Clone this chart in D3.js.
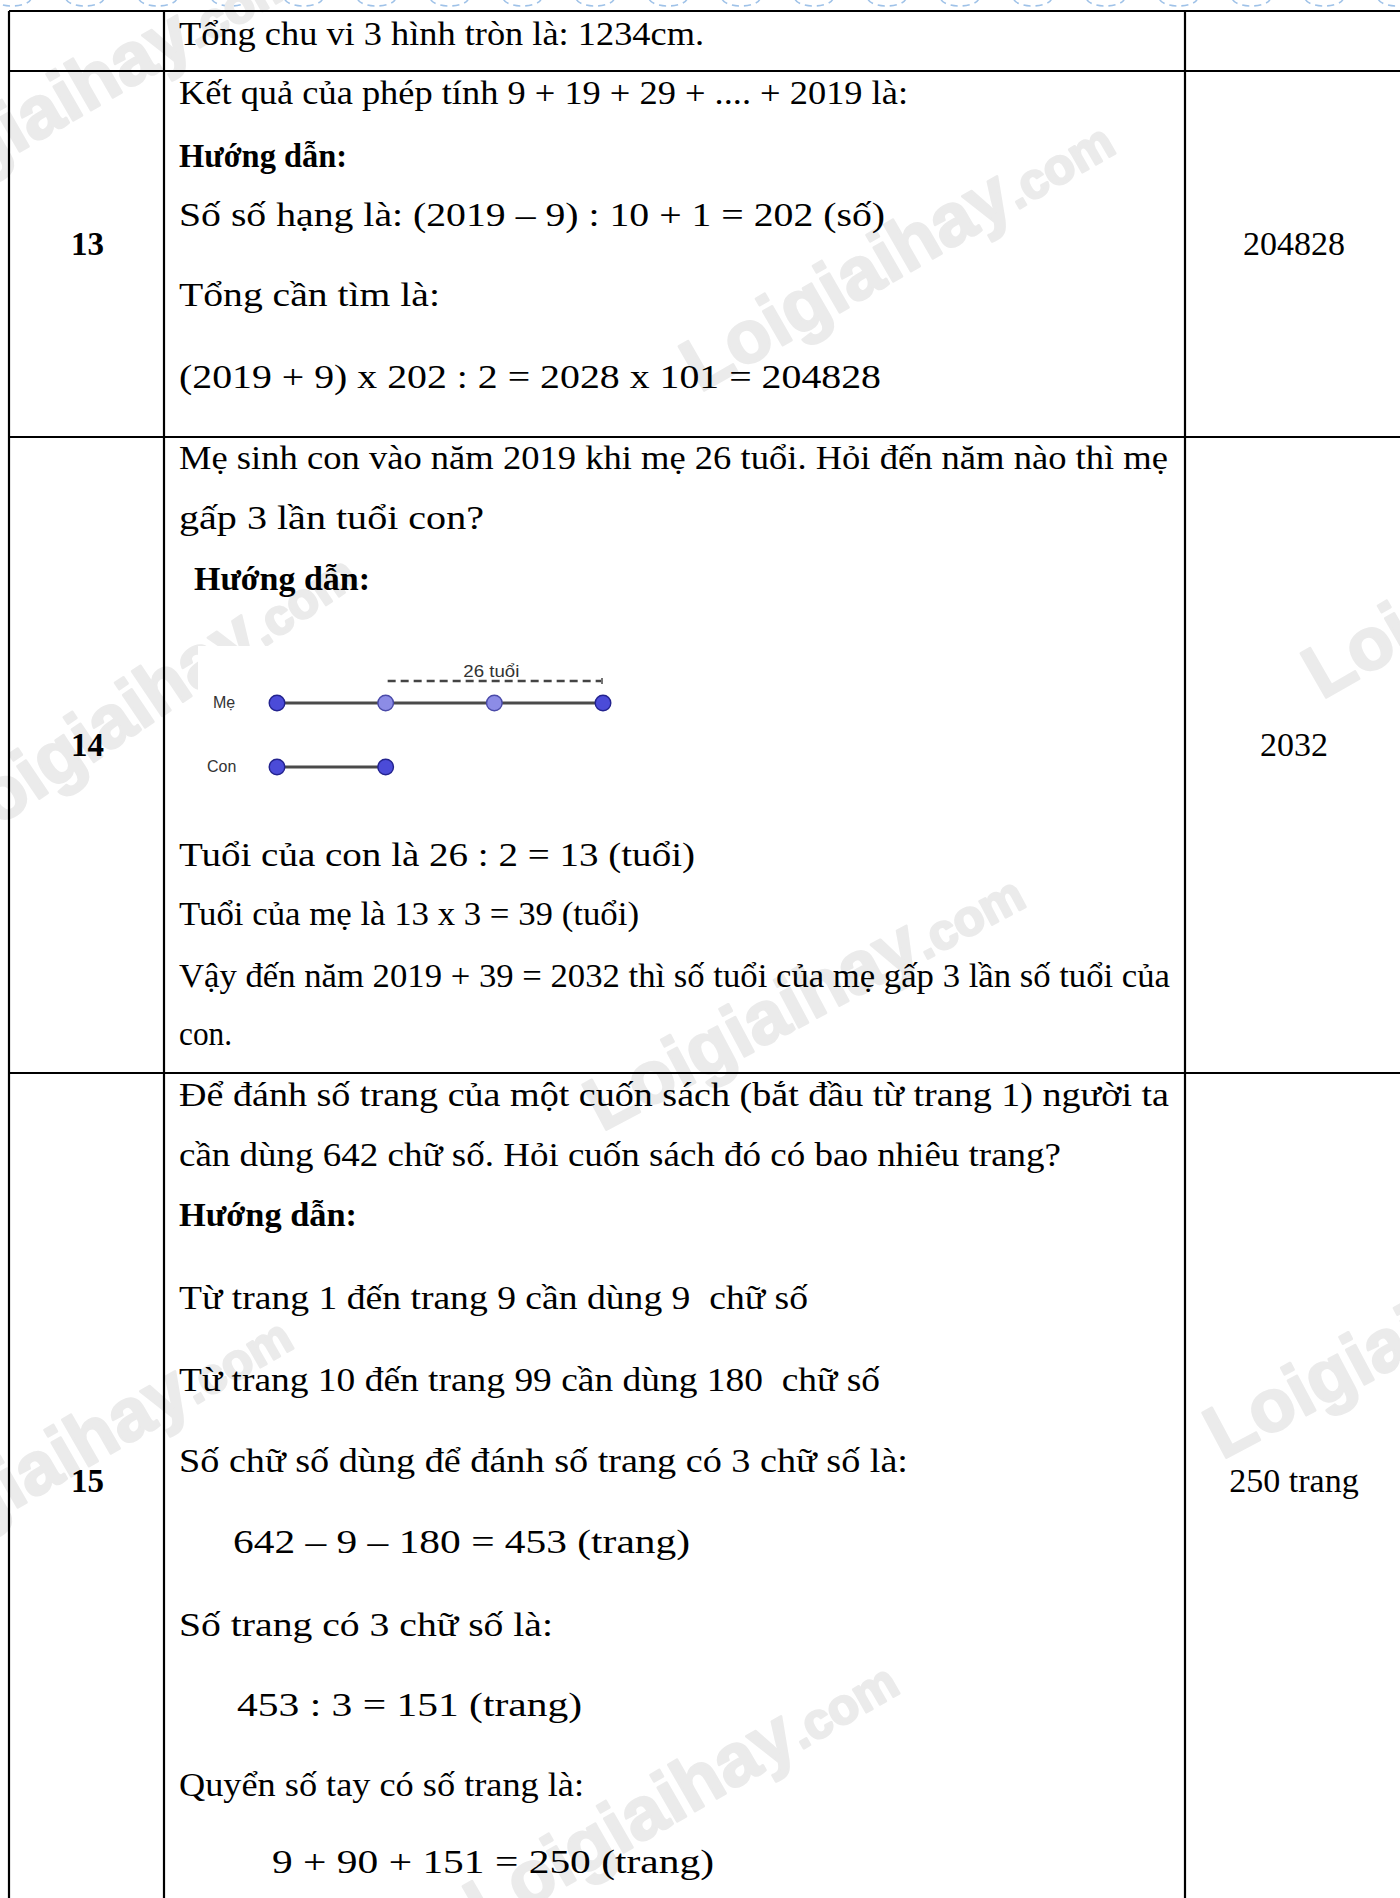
<!DOCTYPE html>
<html>
<head>
<meta charset="utf-8">
<script src="https://cdn.jsdelivr.net/npm/d3@7"></script>
<style>
  html, body { margin: 0; padding: 0; background: #fff; }
  svg { display: block; }
  text { white-space: pre; }
</style>
</head>
<body>
<div id="chart"></div>
<script>
const W = 1400, H = 1898;

// --- table content ---
const questionNumbers = ["13", "14", "15"];
const answers = ["204828", "2032", "250 trang"];
const prevRowLines = ["Tổng chu vi 3 hình tròn là: 1234cm."];
const q13Lines = [
  "Kết quả của phép tính 9 + 19 + 29 + .... + 2019 là:",
  "Hướng dẫn:",
  "Số số hạng là: (2019 – 9) : 10 + 1 = 202 (số)",
  "Tổng cần tìm là:",
  "(2019 + 9) x 202 : 2 = 2028 x 101 = 204828"
];
const q14Lines = [
  "Mẹ sinh con vào năm 2019 khi mẹ 26 tuổi. Hỏi đến năm nào thì mẹ",
  "gấp 3 lần tuổi con?",
  "Hướng dẫn:",
  "Tuổi của con là 26 : 2 = 13 (tuổi)",
  "Tuổi của mẹ là 13 x 3 = 39 (tuổi)",
  "Vậy đến năm 2019 + 39 = 2032 thì số tuổi của mẹ gấp 3 lần số tuổi của",
  "con."
];
const q15Lines = [
  "Để đánh số trang của một cuốn sách (bắt đầu từ trang 1) người ta",
  "cần dùng 642 chữ số. Hỏi cuốn sách đó có bao nhiêu trang?",
  "Hướng dẫn:",
  "Từ trang 1 đến trang 9 cần dùng 9  chữ số",
  "Từ trang 10 đến trang 99 cần dùng 180  chữ số",
  "Số chữ số dùng để đánh số trang có 3 chữ số là:",
  "642 – 9 – 180 = 453 (trang)",
  "Số trang có 3 chữ số là:",
  "453 : 3 = 151 (trang)",
  "Quyển số tay có số trang là:",
  "9 + 90 + 151 = 250 (trang)"
];

// --- segment diagram (units of the child's age) ---
const diagramLabels = ["Mẹ", "Con"];
const meUnits = [0, 1, 2, 3];
const conUnits = [0, 1];
const bracketUnits = [1, 3];
const bracketLabel = "26 tuổi";

const watermarkText = "Loigiaihay";
const watermarkSuffix = ".com";

// layout (baseline y, left x, right x) for each text line, in order
const lineLayout = [
  [45, 179, 704],
  [104, 179, 908], [167, 179, 347], [226, 179, 885], [306, 179, 440], [388, 179, 881],
  [469, 179, 1168], [529, 179, 484], [590, 194, 370],
  [866, 179, 695], [925, 179, 639], [987, 179, 1170], [1045, 179, 232],
  [1106, 179, 1169], [1166, 179, 1061], [1226, 179, 357], [1309, 179, 808],
  [1391, 179, 880], [1472, 179, 908], [1553, 233, 690], [1636, 179, 553],
  [1716, 237, 582], [1796, 179, 584], [1873, 272, 714]
];
const COLS = [9, 164, 1185, 1403];
const ROWS = [11, 71, 437, 1073, 1905];
// [x, y, angle] of each watermark's start
const watermarkSpots = [
  [-120, 232, -30], [700, 393, -30], [-40, 852, -34], [1322, 700, -30],
  [602, 1132, -28], [-122, 1588, -30], [1222, 1460, -28], [484, 1933, -30]
];

const svg = d3.select("#chart").append("svg")
  .attr("width", W)
  .attr("height", H)
  .attr("viewBox", `0 0 ${W} ${H}`);

svg.append("rect").attr("width", W).attr("height", H).attr("fill", "#fff");

// decorative dashed ovals along the top edge
svg.append("g").selectAll("ellipse")
  .data(d3.range(20))
  .enter().append("ellipse")
  .attr("cx", i => 12 + i * 72.9)
  .attr("cy", -2)
  .attr("rx", 19)
  .attr("ry", 8)
  .attr("fill", "none")
  .attr("stroke", "#9fc2e8")
  .attr("stroke-width", 1.6)
  .attr("stroke-dasharray", "7,5");

// watermarks
const wm = svg.append("g");
watermarkSpots.forEach(([x, y, a]) => {
  const t = wm.append("text")
    .attr("transform", `translate(${x},${y}) rotate(${a})`)
    .attr("font-family", "'Liberation Sans', Arial, sans-serif")
    .attr("font-weight", "bold")
    .attr("fill", "#ebebeb")
    .attr("stroke", "#ebebeb")
    .attr("stroke-width", 2.5)
    .attr("stroke-linejoin", "round");
  t.append("tspan").attr("font-size", 74).text(watermarkText);
  t.append("tspan").attr("font-size", 50).text(watermarkSuffix);
});

// table grid
const grid = svg.append("g").attr("stroke", "#000").attr("stroke-width", 2.2);
grid.selectAll("line.h")
  .data(ROWS.slice(0, 4))
  .enter().append("line")
  .attr("x1", COLS[0]).attr("x2", COLS[3])
  .attr("y1", d => d).attr("y2", d => d);
grid.selectAll("line.v")
  .data(COLS.slice(0, 3))
  .enter().append("line")
  .attr("y1", ROWS[0]).attr("y2", ROWS[4])
  .attr("x1", d => d).attr("x2", d => d);

// question numbers and answers
const rowY = d3.scaleOrdinal().domain(questionNumbers).range([255, 756, 1492]);
const numX = (COLS[0] + COLS[1]) / 2;
const ansX = 1294;
const serif = "'Liberation Serif', 'Times New Roman', serif";

svg.append("g").selectAll("text")
  .data(questionNumbers)
  .enter().append("text")
  .attr("x", numX + 1)
  .attr("y", d => rowY(d))
  .attr("text-anchor", "middle")
  .attr("font-family", serif)
  .attr("font-weight", "bold")
  .attr("font-size", 33)
  .text(d => d);

svg.append("g").selectAll("text")
  .data(answers)
  .enter().append("text")
  .attr("x", ansX)
  .attr("y", (d, i) => rowY(questionNumbers[i]))
  .attr("text-anchor", "middle")
  .attr("font-family", serif)
  .attr("font-size", 34)
  .text(d => d);

// body text
const allLines = [...prevRowLines, ...q13Lines, ...q14Lines, ...q15Lines];
svg.append("g").selectAll("text")
  .data(allLines)
  .enter().append("text")
  .attr("x", (d, i) => lineLayout[i][1])
  .attr("y", (d, i) => lineLayout[i][0])
  .attr("textLength", (d, i) => lineLayout[i][2] - lineLayout[i][1])
  .attr("lengthAdjust", "spacingAndGlyphs")
  .attr("font-family", serif)
  .attr("font-size", 33)
  .attr("font-weight", d => d.startsWith("Hướng dẫn") ? "bold" : "normal")
  .attr("fill", "#000")
  .text(d => d);

// segment diagram, pasted as an opaque picture
const ux = d3.scaleLinear().domain([0, 3]).range([277, 603]);
const laneY = d3.scaleOrdinal().domain(diagramLabels).range([703, 767]);
const dia = svg.append("g");
dia.append("rect")
  .attr("x", 198).attr("y", 646)
  .attr("width", 428).attr("height", 148)
  .attr("fill", "#fff");
const lanes = [["Mẹ", meUnits], ["Con", conUnits]];

dia.selectAll("text.lab")
  .data(lanes)
  .enter().append("text")
  .attr("x", d => d[0] === "Mẹ" ? 213 : 207)
  .attr("y", d => laneY(d[0]) + 5)
  .attr("font-family", "'Liberation Sans', Arial, sans-serif")
  .attr("font-size", 16)
  .attr("fill", "#333")
  .text(d => d[0]);

dia.selectAll("line.seg")
  .data(lanes)
  .enter().append("line")
  .attr("x1", d => ux(d3.min(d[1])))
  .attr("x2", d => ux(d3.max(d[1])))
  .attr("y1", d => laneY(d[0]))
  .attr("y2", d => laneY(d[0]))
  .attr("stroke", "#4a4a4a")
  .attr("stroke-width", 2.8);

// bracket above the mother's line
const by = laneY("Mẹ") - 22;
dia.append("line")
  .attr("x1", ux(bracketUnits[0]) + 2)
  .attr("x2", ux(bracketUnits[1]) - 2)
  .attr("y1", by).attr("y2", by)
  .attr("stroke", "#444")
  .attr("stroke-width", 2.4)
  .attr("stroke-dasharray", "8,5");
dia.append("line")
  .attr("x1", ux(bracketUnits[1]) - 1).attr("x2", ux(bracketUnits[1]) - 1)
  .attr("y1", by - 3).attr("y2", by + 3)
  .attr("stroke", "#444").attr("stroke-width", 1.5);
dia.append("text")
  .attr("x", (ux(bracketUnits[0]) + ux(bracketUnits[1])) / 2 - 3)
  .attr("y", by - 4)
  .attr("text-anchor", "middle")
  .attr("font-family", "'Liberation Sans', Arial, sans-serif")
  .attr("font-size", 16)
  .attr("textLength", 56)
  .attr("lengthAdjust", "spacingAndGlyphs")
  .attr("fill", "#333")
  .text(bracketLabel);

const pts = [];
lanes.forEach(([name, units]) => units.forEach((u, i) => {
  const end = i === 0 || i === units.length - 1;
  pts.push({name, u, end});
}));
dia.selectAll("circle")
  .data(pts)
  .enter().append("circle")
  .attr("cx", d => ux(d.u))
  .attr("cy", d => laneY(d.name))
  .attr("r", 7.8)
  .attr("fill", d => d.end ? "#4b4bd8" : "#8c8ce6")
  .attr("stroke", d => d.end ? "#23238f" : "#4a4aa8")
  .attr("stroke-width", 1.4);
</script>
</body>
</html>
